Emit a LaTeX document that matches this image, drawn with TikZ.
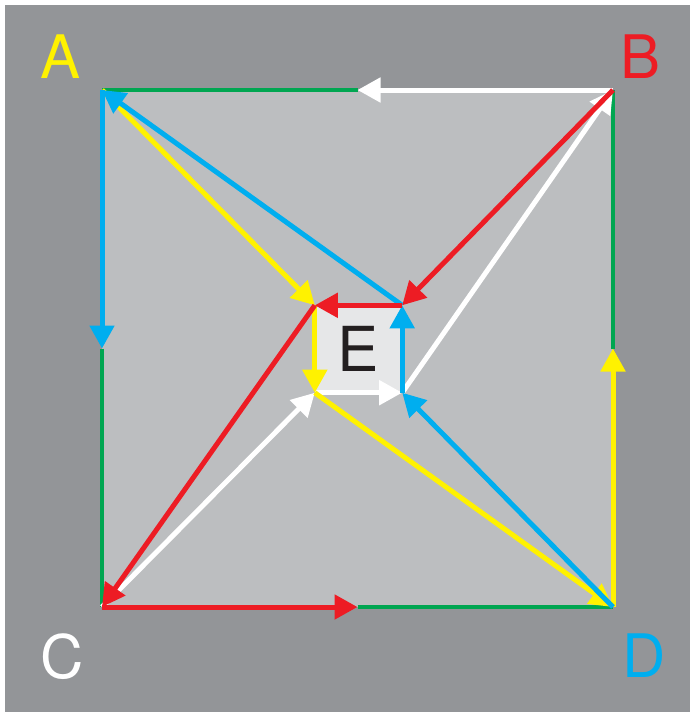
\documentclass[tikz,border=0pt]{standalone}
\usepackage{fontspec}
\setmainfont{TeX Gyre Heros}
\usetikzlibrary{arrows.meta}

\definecolor{darkbg}{RGB}{147,149,152}
\definecolor{lightbg}{RGB}{188,190,192}
\definecolor{egray}{RGB}{230,231,232}
\definecolor{sqgreen}{RGB}{0,166,81}
\definecolor{sqred}{RGB}{237,28,36}
\definecolor{sqyellow}{RGB}{255,242,0}
\definecolor{sqblue}{RGB}{0,174,239}
\definecolor{sqblack}{RGB}{35,31,32}

\tikzset{
    edge/.style={line width=4.5pt},
    flow/.style={line width=5pt, -{Triangle[length=23pt,width=24pt]}},
    corner/.style={font=\fontsize{60}{60}\selectfont, inner sep=0pt}
}

\begin{document}
\begin{tikzpicture}[x=1pt, y=-1pt]
                % Background
                \useasboundingbox (0,0) rectangle (690,712);
                \fill[white] (0,0) rectangle (690,712);
                \fill[darkbg] (5,5) rectangle (690,712);
                
                % Corners and edge midpoints
                \coordinate (A) at (102,90);
                \coordinate (B) at (613,90);
                \coordinate (C) at (102,607);
                \coordinate (D) at (613,607);
                \coordinate (mAB) at (357.5,90);
                \coordinate (mAC) at (102,348.5);
                \coordinate (mCD) at (357.5,607);
                \coordinate (mBD) at (613,348.5);
                
                % Outer square
                \fill[lightbg] (A) rectangle (D);
                \draw[edge, sqgreen] (mAB) -- (A);
                \draw[edge, sqgreen] (mAC) -- (C);
                \draw[edge, sqgreen] (mCD) -- (D);
                \draw[edge, sqgreen] (mBD) -- (B);
                
                % Inner square
                \node[fill=egray, minimum size=87pt, inner sep=0pt, text=sqblack,
                      font=\fontsize{62}{62}\selectfont] (E) at (358.5,349) {E};
                
                % Labels
                \node[corner, text=sqyellow] (labA) at (61,57) {A};
                \node[corner, text=sqred] (labB) at (641,57) {B};
                \node[corner, text=white] (labC) at (62,657) {C};
                \node[corner, text=sqblue] (labD) at (644,656) {D};
                
                % White path
                \draw[flow, white] (C) -- (E.south west);
                \draw[flow, white] (E.south west) -- (E.south east);
                \draw[flow, white] (E.south east) -- (B);
                \draw[flow, white] (B) -- (mAB);
                
                % Yellow path
                \draw[flow, sqyellow] (A) -- (E.north west);
                \draw[flow, sqyellow] (E.north west) -- (E.south west);
                \draw[flow, sqyellow] (E.south west) -- (D);
                \draw[flow, sqyellow] (D) -- (mBD);
                
                % Blue path
                \draw[flow, sqblue] (D) -- (E.south east);
                \draw[flow, sqblue] (E.south east) -- (E.north east);
                \draw[flow, sqblue] (E.north east) -- (A);
                \draw[flow, sqblue] (A) -- (mAC);
                
                % Red path
                \draw[flow, sqred] (B) -- (E.north east);
                \draw[flow, sqred] (E.north east) -- (E.north west);
                \draw[flow, sqred] (E.north west) -- (C);
                \draw[flow, sqred] (C) -- (mCD);
            \end{tikzpicture}
\end{document}
